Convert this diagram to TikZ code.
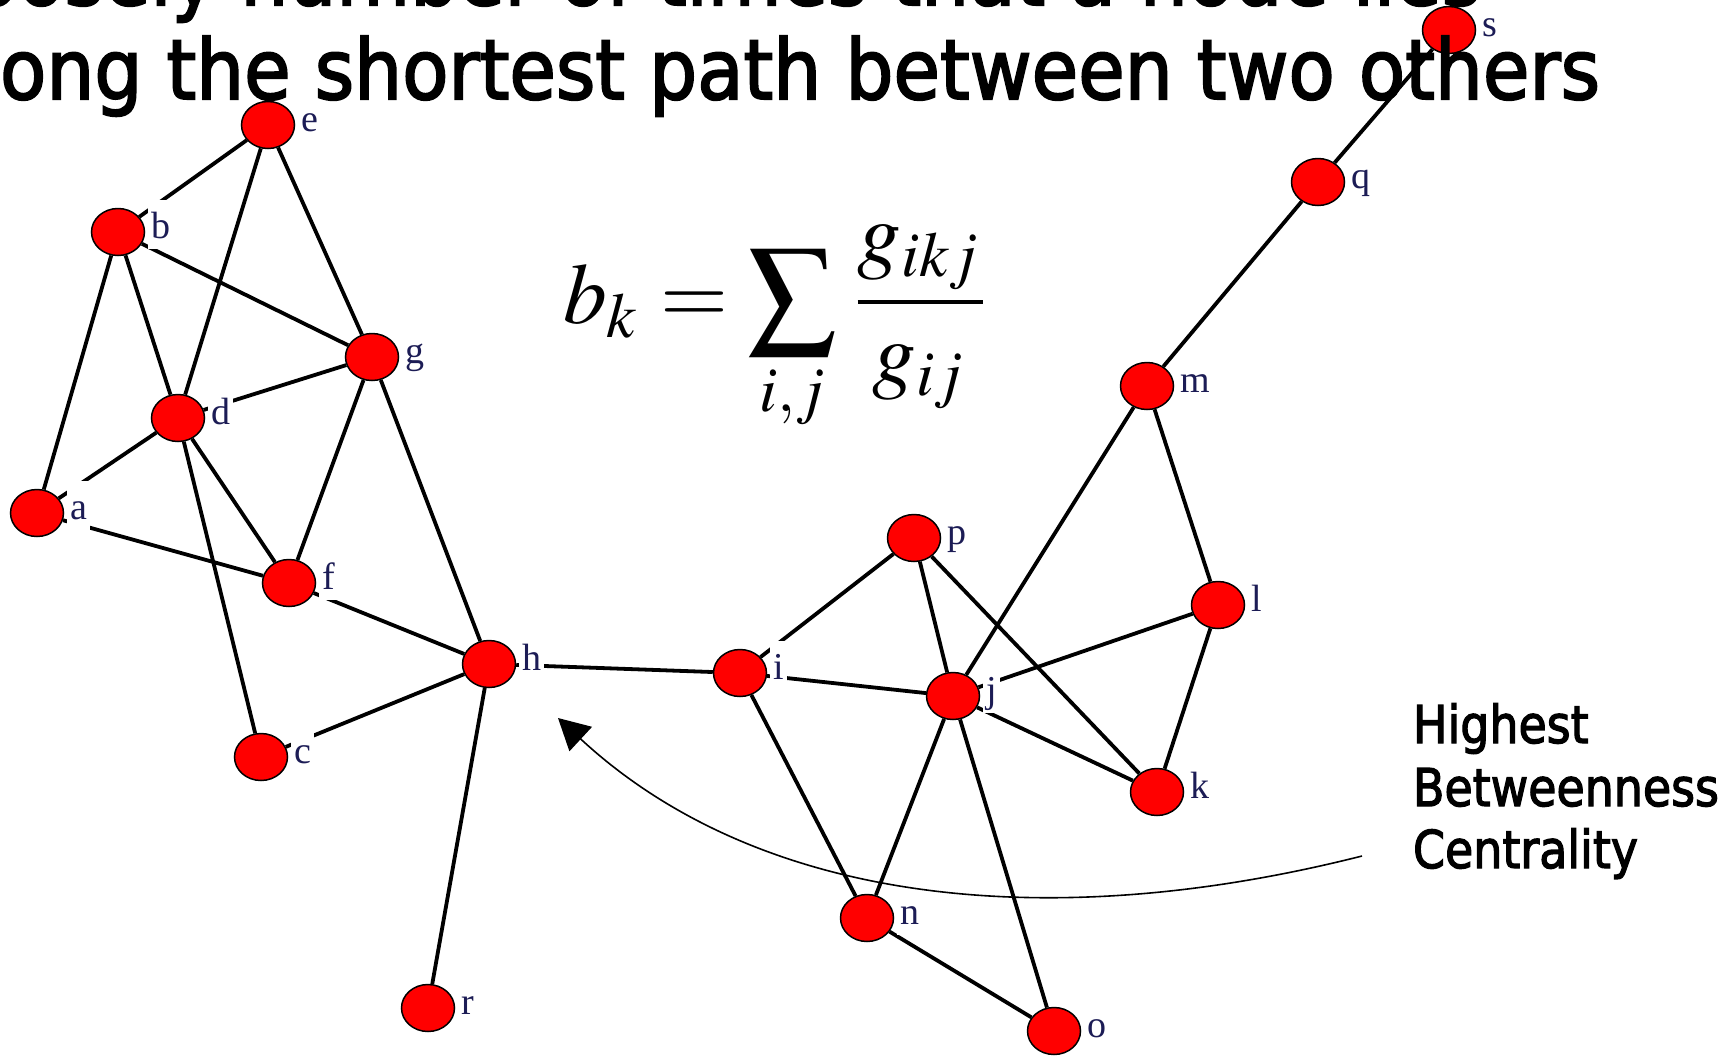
\documentclass[tikz,border=0pt]{standalone}
\usepackage{mathptmx}
\usepackage[no-math]{fontspec}
\usepackage{graphicx}
\usetikzlibrary{shapes.geometric,arrows.meta}
\newfontfamily\comicf[FakeBold=2.5]{DejaVu Sans}
\newfontfamily\lblf{Liberation Serif}
\definecolor{nodered}{RGB}{255,0,0}
\definecolor{lblcol}{RGB}{28,28,85}
\newsavebox\titlebox
\newsavebox\sidebox
\pgfdeclarelayer{bg}
\pgfsetlayers{bg,main}
\begin{document}
\sbox\titlebox{\comicf\fontsize{20pt}{24pt}\selectfont ong the shortest path between two others}%
\sbox\sidebox{\comicf\fontsize{20pt}{24pt}\selectfont Betweenness}%
\pgfmathsetmacro\tsx{1600/\the\wd\titlebox}%
\pgfmathsetmacro\tsy{63/\the\ht\titlebox}%
\pgfmathsetmacro\ssx{306/\the\wd\sidebox}%
\pgfmathsetmacro\ssy{38/\the\ht\sidebox}%
\begin{tikzpicture}[x=1pt,y=-1pt,
  vtx/.style={ellipse, draw=black, line width=1.5pt, fill=nodered,
    minimum width=53pt, minimum height=47pt, inner sep=0pt},
  lbl/.style={anchor=base west, fill=white, text=lblcol,
    font=\lblf\fontsize{38pt}{40pt}\selectfont,
    inner xsep=3pt, inner ysep=3.5pt, text height=35pt, text depth=7pt},
  link/.style={line width=3.8pt, draw=black},
  pointer/.style={line width=1.6pt, draw=black, -{Triangle[length=31pt,width=33pt]}},
  plain/.style={inner sep=0pt, outer sep=0pt}]
\useasboundingbox (0,0) rectangle (1730,1058);
\clip (0,0) rectangle (1730,1058);
\begin{pgfonlayer}{bg}
  \fill[white] (0,0) rectangle (1730,1058);
\end{pgfonlayer}
% vertices and their labels
\foreach \n/\x/\y in {a/37/513, b/118/232, c/261/757, d/178/418, e/268/125,
  f/289/583, g/372/357, h/489/664, i/740/673, j/953/696, k/1157/792,
  l/1218/605, m/1147/386, n/867/918, o/1054/1031, p/914/538, q/1318/182,
  r/428/1008, s/1449/30}{
  \node[vtx] (\n) at (\x,\y) {};
  \node[lbl] (\n-lab) at (\x+30,\y+6) {\n};
}
% edges
\begin{pgfonlayer}{bg}
\foreach \u/\v in {e/b,e/d,e/g,b/g,b/d,b/a,d/g,d/a,d/f,d/c,g/f,g/h,a/f,f/h,c/h,
  h/r,h/i,i/p,i/j,i/n,p/j,p/k,j/m,j/l,j/k,j/n,j/o,n/o,m/l,l/k,m/q,q/s}
  \draw[link] (\u) -- (\v);
\end{pgfonlayer}
% formula
\node[plain, anchor=north west] (formula) at (563,225)
  {\resizebox*{430pt}{208pt}{$\displaystyle b_k=\sum_{i,j}\frac{g_{ikj}}{g_{ij}}$}};
% side text
\node[plain, anchor=base west] (side1) at (1413,743)
  {\scalebox{\ssx}[\ssy]{\comicf\fontsize{20pt}{24pt}\selectfont Highest}};
\node[plain, anchor=base west] (side2) at (1413,806)
  {\scalebox{\ssx}[\ssy]{\comicf\fontsize{20pt}{24pt}\selectfont Betweenness}};
\node[plain, anchor=base west] (side3) at (1413,868)
  {\scalebox{\ssx}[\ssy]{\comicf\fontsize{20pt}{24pt}\selectfont Centrality}};
% arrow
\coordinate (arrS) at (1362,856);
\coordinate (arrE) at (558,718);
\draw[pointer] (arrS) .. controls (1050,935) and (760,905) .. (arrE);
% title (clipped at the top of the page)
\node[plain, anchor=base east] (title1) at (1481,5)
  {\scalebox{\tsx}[\tsy]{\comicf\fontsize{20pt}{24pt}\selectfont Loosely number of times that a node lies}};
\node[plain, anchor=base east] (title2) at (1600,99)
  {\scalebox{\tsx}[\tsy]{\comicf\fontsize{20pt}{24pt}\selectfont\llap{al}ong the shortest path between two others}};
\end{tikzpicture}
\end{document}
